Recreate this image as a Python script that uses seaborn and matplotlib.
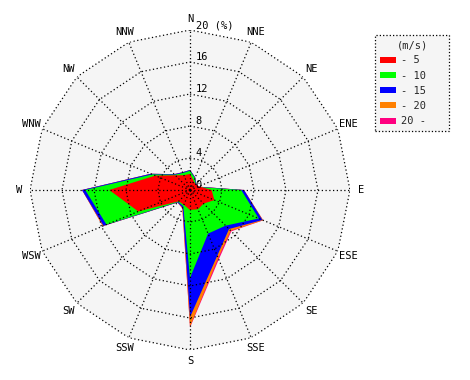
import numpy as np
import matplotlib
matplotlib.use('Agg')
import matplotlib.pyplot as plt
from matplotlib.patches import Patch
import seaborn as sns

directions = ['N', 'NNE', 'NE', 'ENE', 'E', 'ESE', 'SE', 'SSE',
              'S', 'SSW', 'SW', 'WSW', 'W', 'WNW', 'NW', 'NNW']

# cumulative frequency (%) per direction up to each wind speed class
upto_5 = [2.0, 1.2, 1.0, 1.2, 2.7, 3.3, 2.4, 2.6, 2.5, 2.0, 2.0, 7.0, 10.1, 4.7, 2.6, 2.0]
upto_10 = [2.4, 1.6, 1.0, 1.0, 6.4, 9.3, 6.3, 5.9, 11.0, 2.2, 2.1, 11.3, 13.1, 5.1, 2.7, 2.3]
upto_15 = [2.5, 1.7, 1.1, 1.1, 6.75, 9.8, 6.9, 8.9, 15.9, 2.4, 2.2, 11.7, 13.5, 5.3, 2.8, 2.4]
upto_20 = [2.5, 1.7, 1.1, 1.1, 6.75, 9.9, 7.2, 9.2, 17.1, 2.5, 2.2, 11.8, 13.5, 5.3, 2.8, 2.4]
all_speeds = [2.5, 1.7, 1.1, 1.1, 6.75, 9.9, 7.3, 9.4, 17.2, 2.5, 2.2, 11.8, 13.5, 5.3, 2.8, 2.4]

speed_labels = ['- 5', '- 10', '- 15', '- 20', '20 -']
speed_colors = ['#ff0000', '#00ff00', '#0000ff', '#ff8000', '#ff0080']
ring_ticks = [4, 8, 12, 16, 20]

sns.set_theme(style='white')
plt.rcParams['font.family'] = ['DejaVu Sans Mono']

fig = plt.figure(figsize=(4.7, 3.8), dpi=100)
ax = fig.add_axes([30 / 470, 30 / 380, 320 / 470, 320 / 380], projection='polar')
ax.set_theta_zero_location('N')
ax.set_theta_direction(-1)
ax.set_ylim(0, 20)
ax.set_axis_off()

theta = np.deg2rad(np.arange(len(directions)) * 22.5)
closed = np.append(theta, theta[0])

def close(vals):
    return np.append(vals, vals[0])

# grey plotting area inside the outer ring
ax.fill(closed, close([ring_ticks[-1]] * len(directions)), color='#f5f5f5', lw=0, zorder=0)

series = [upto_5, upto_10, upto_15, upto_20, all_speeds]
for i in range(len(series) - 1, -1, -1):
    ax.fill(closed, close(series[i]), color=speed_colors[i], lw=0, zorder=2 + (4 - i))

dots = (0, (1, 2))
for r in ring_ticks:
    ax.plot(closed, close([r] * len(directions)), color='black', lw=0.9, ls=dots, zorder=10)
for t in theta:
    ax.plot([t, t], [0, ring_ticks[-1]], color='black', lw=0.9, ls=dots, zorder=10)

for t, name in zip(theta, directions):
    ax.text(t, 21.4, name, ha='center', va='center', fontsize=7.5, color='black')

for r in [0] + ring_ticks:
    label = '20 (%)' if r == 20 else str(r)
    ax.annotate(label, (0, r), xytext=(4, 0), textcoords='offset points',
                ha='left', va='bottom', fontsize=7.5, color='black', zorder=11)

handles = [Patch(facecolor=c, edgecolor='none') for c in speed_colors]
leg = fig.legend(handles, [s.ljust(7) for s in speed_labels], title='(m/s)',
                 loc='upper left', bbox_to_anchor=(375 / 470, 1 - 35 / 380),
                 borderaxespad=0, fontsize=7.5, title_fontsize=7.5,
                 handlelength=1.55, handleheight=0.5, handletextpad=0.4,
                 labelspacing=0.5, borderpad=0.5, fancybox=False, framealpha=1)
frame = leg.get_frame()
frame.set_facecolor('#f5f5f5')
frame.set_edgecolor('black')
frame.set_linestyle(':')
frame.set_linewidth(0.9)

fig.savefig('out.png', dpi=100)
